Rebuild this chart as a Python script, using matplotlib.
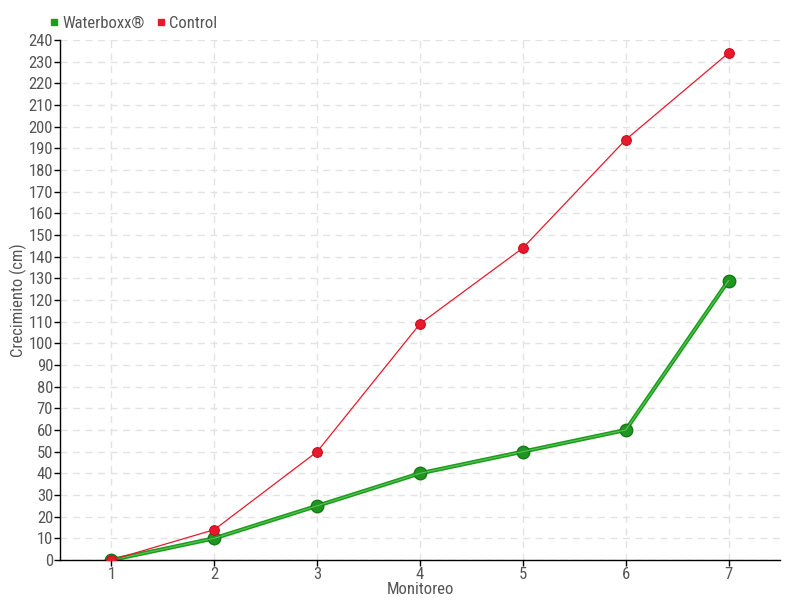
import matplotlib
matplotlib.use("Agg")
import matplotlib.pyplot as plt
from matplotlib.lines import Line2D

plt.rcParams['font.family'] = ['Roboto Condensed', 'DejaVu Sans']

# ---------- datos ----------
monitoreo = [1, 2, 3, 4, 5, 6, 7]
waterboxx = [0, 10, 25, 40, 50, 60, 129]
control = [0, 14, 50, 109, 144, 194, 234]
y_ticks = list(range(0, 241, 10))

TXT = "#555555"

fig = plt.figure(figsize=(8, 6), dpi=100)
ax = fig.add_axes([60/800, 40/600, 720/800, 520/600])

ax.plot(monitoreo, control, color="#e8192c", lw=0.9, marker="o", ms=7,
        mfc="#e8192c", mec="#c8101f", mew=0.8, zorder=3)
ax.plot(monitoreo, waterboxx, color="#1a9e1a", lw=3, marker="o", ms=9,
        mfc="#1f961f", mec="#167a16", mew=1, zorder=2)
ax.plot(monitoreo, waterboxx, color="#7ccf7c", lw=0.8, alpha=0.7, zorder=2)

ax.set_xlim(0.5, 7.5)
ax.set_ylim(0, 240)
ax.set_xticks(monitoreo)
ax.set_yticks(y_ticks)
ax.tick_params(colors="black", labelcolor=TXT, labelsize=12, length=4, width=1, pad=1)
ax.grid(True, color="#e3e3e3", ls=(0, (5, 4)), lw=1)
ax.set_axisbelow(True)
for s in ["top", "right"]:
    ax.spines[s].set_visible(False)
for s in ["left", "bottom"]:
    ax.spines[s].set_color("black")
    ax.spines[s].set_linewidth(1)

ax.set_xlabel("Monitoreo", color=TXT, fontsize=12, labelpad=0)
ax.set_ylabel("Crecimiento (cm)", color=TXT, fontsize=12, labelpad=1)

handles = [
    Line2D([], [], ls="none", marker="s", ms=5, color="#1a9e1a"),
    Line2D([], [], ls="none", marker="s", ms=5, color="#e8192c"),
]
fig.legend(handles, ["Waterboxx®", "Control"], loc="upper left",
           bbox_to_anchor=(32/800, 1 - 1/600), ncol=2, frameon=False,
           fontsize=12, labelcolor=TXT, handletextpad=0.1, columnspacing=0.6,
           handlelength=0.8)

plt.savefig("out.png", dpi=100)
